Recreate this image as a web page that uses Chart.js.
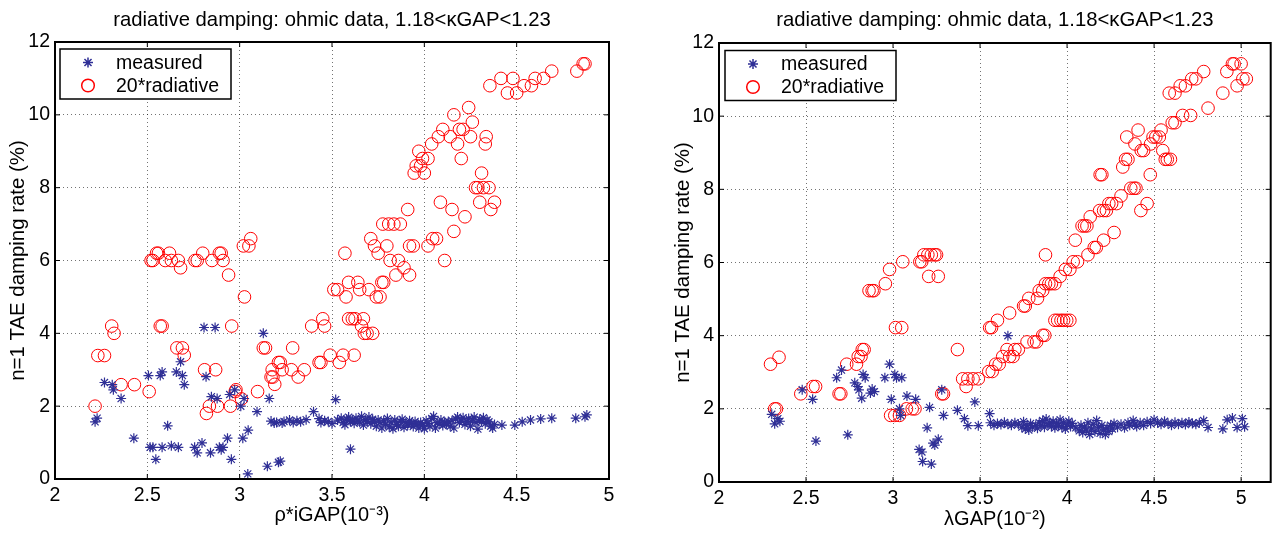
<!DOCTYPE html>
<html>
<head>
<meta charset="utf-8">
<script src="https://cdn.jsdelivr.net/npm/chart.js@4/dist/chart.umd.min.js"></script>
<style>
  html, body { margin: 0; padding: 0; background: #fff; }
  #wrap { position: relative; width: 1278px; height: 537px; }
  canvas { position: absolute; top: 0; }
  #left { left: 0; }
  #right { left: 639px; }
</style>
</head>
<body>
<div id="wrap">
  <canvas id="left" width="639" height="537"></canvas>
  <canvas id="right" width="639" height="537"></canvas>
</div>
<script>
// tick values shared by both panels
const xTicks = [2, 2.5, 3, 3.5, 4, 4.5, 5];
const yTicks = [0, 2, 4, 6, 8, 10, 12];

const panelTitle = 'radiative damping: ohmic data, 1.18<\u03baGAP<1.23';
const yLabel = 'n=1 TAE damping rate (%)';
const seriesNames = ['measured', '20*radiative'];

// left panel: x = rho*iGAP (1e-3)
const leftMeasured = [
  [2.217,1.57],[2.228,1.67],[2.268,2.65],[2.31,2.59],[2.316,2.45],[2.358,2.21],[2.427,1.12],
  [2.506,2.84],[2.515,0.87],[2.53,0.87],[2.546,0.54],[2.57,2.84],[2.58,2.94],[2.58,0.87],[2.61,1.46],
  [2.63,0.91],[2.657,2.94],[2.668,0.87],[2.68,3.22],[2.69,2.84],[2.7,2.59],[2.756,0.87],[2.77,0.72],
  [2.796,0.99],[2.807,4.16],[2.818,2.81],[2.842,0.72],[2.847,2.26],[2.867,4.16],[2.878,2.21],[2.89,0.87],
  [2.9,0.8],[2.91,0.87],[2.934,1.12],[2.946,2.32],[2.955,0.54],[2.973,2.45],[3.006,2.0],[3.017,1.12],
  [3.024,2.21],[3.046,1.34],[3.044,0.14],[3.094,1.85],[3.128,4.0],[3.15,0.35],[3.16,2.21],[3.17,1.59],
  [3.187,1.54],[3.21,0.46],[3.22,0.49],[3.23,1.54],[3.40,1.85],[3.52,2.18],[3.60,0.82],
  [3.20,1.55],[3.24,1.58],[3.27,1.62],[3.29,1.55],[3.31,1.60],[3.33,1.57],[3.36,1.63],[3.43,1.66],
  [3.44,1.55],[3.46,1.60],[3.48,1.58],[3.50,1.52],[3.53,1.62],[3.55,1.67],[3.56,1.55],[3.57,1.49],
  [3.58,1.64],[3.59,1.70],[3.60,1.58],[3.61,1.62],[3.62,1.53],[3.63,1.67],[3.64,1.60],[3.65,1.56],
  [3.66,1.72],[3.67,1.48],[3.68,1.63],[3.69,1.58],[3.70,1.70],[3.71,1.52],[3.72,1.64],[3.73,1.57],
  [3.74,1.45],[3.75,1.62],[3.76,1.55],[3.77,1.40],[3.78,1.60],[3.79,1.50],[3.80,1.66],[3.81,1.43],
  [3.82,1.56],[3.83,1.38],[3.84,1.62],[3.85,1.50],[3.86,1.45],[3.87,1.58],[3.88,1.64],[3.89,1.42],
  [3.90,1.55],[3.91,1.48],[3.92,1.60],[3.93,1.52],[3.94,1.44],[3.95,1.58],[3.96,1.50],[3.97,1.40],
  [3.98,1.55],[3.99,1.47],[4.00,1.38],[4.01,1.60],[4.02,1.52],[4.03,1.45],[4.04,1.66],[4.05,1.72],
  [4.06,1.40],[4.07,1.55],[4.08,1.50],[4.09,1.62],[4.10,1.47],[4.11,1.56],[4.12,1.52],[4.13,1.58],
  [4.14,1.45],[4.15,1.60],[4.16,1.40],[4.17,1.65],[4.18,1.70],[4.19,1.55],[4.20,1.62],[4.21,1.68],
  [4.22,1.50],[4.23,1.58],[4.24,1.66],[4.25,1.45],[4.26,1.62],[4.27,1.70],[4.28,1.55],[4.29,1.37],
  [4.30,1.64],[4.31,1.58],[4.32,1.68],[4.33,1.52],[4.34,1.62],[4.35,1.57],[4.36,1.45],[4.37,1.40],
  [4.38,1.50],[4.42,1.48],[4.49,1.48],[4.53,1.57],[4.575,1.62],[4.63,1.65],[4.69,1.67],[4.82,1.67],
  [4.87,1.71],[4.88,1.76]
];
const leftRadiative = [
  [2.217,2.0],[2.232,3.39],[2.268,3.39],[2.307,4.2],[2.32,4.0],[2.358,2.59],[2.43,2.59],[2.51,2.4],
  [2.52,6.0],[2.53,6.0],[2.55,6.2],[2.56,6.2],[2.597,6.0],[2.62,6.2],[2.63,6.0],[2.668,6.0],[2.68,5.8],
  [2.758,6.0],[2.77,6.0],[2.8,6.2],[2.85,6.0],[2.89,6.2],[2.9,6.2],[2.91,6.0],[2.94,5.6],[3.026,5.0],
  [3.02,6.4],[3.05,6.4],[3.06,6.6],[2.57,4.2],[2.58,4.2],[2.66,3.6],[2.69,3.6],[2.7,3.4],[2.81,3.0],
  [2.87,3.0],[2.82,1.8],[2.836,2.0],[2.88,2.0],[2.95,2.0],[2.957,4.2],[2.976,2.4],[2.98,2.45],[3.01,2.2],
  [3.097,2.4],[3.128,3.6],[3.14,3.6],[3.17,2.8],[3.176,3.0],[3.19,2.6],[3.18,2.8],[3.21,3.2],[3.22,3.2],
  [3.23,3.0],[3.287,3.6],[3.28,3.0],[3.317,2.8],[3.35,3.0],[3.39,4.2],[3.45,4.4],[3.46,4.2],[3.43,3.2],
  [3.44,3.2],[3.49,3.4],[3.54,3.2],[3.56,3.4],[3.62,3.4],[3.51,5.2],[3.53,5.2],[3.576,5.0],[3.57,6.2],
  [3.59,5.4],[3.64,5.4],[3.65,5.2],[3.70,5.2],[3.59,4.4],[3.61,4.4],[3.625,4.4],[3.67,4.4],[3.66,4.2],
  [3.675,4.0],[3.69,4.0],[3.72,4.0],[3.71,6.6],[3.73,6.4],[3.75,6.2],[3.74,5.0],[3.76,5.0],[3.77,5.4],
  [3.78,5.4],[3.797,6.4],[3.775,7.0],[3.815,6.0],[3.807,7.0],[3.835,7.0],[3.87,7.0],[3.86,6.0],[3.846,5.6],
  [3.89,5.8],[3.92,5.6],[3.91,7.4],[3.92,6.4],[3.94,6.4],[3.945,8.4],[3.956,8.6],[3.97,9.0],[3.98,8.6],
  [4.0,8.4],[3.99,8.8],[4.02,8.8],[4.02,6.4],[4.04,9.2],[4.045,6.6],[4.066,6.6],[4.11,6.0],[4.076,9.4],
  [4.1,9.6],[4.087,7.6],[4.14,9.4],[4.15,7.4],[4.16,6.8],[4.16,10.0],[4.18,9.2],[4.19,9.6],[4.2,8.8],
  [4.21,9.6],[4.22,7.2],[4.24,10.2],[4.25,9.4],[4.26,9.8],[4.277,8.0],[4.29,8.0],[4.3,7.6],[4.31,8.4],
  [4.32,8.0],[4.33,9.2],[4.335,9.4],[4.35,8.0],[4.36,7.4],[4.38,7.6],[4.355,10.8],[4.415,11.0],[4.45,10.6],
  [4.48,11.0],[4.5,10.6],[4.54,10.8],[4.58,10.8],[4.6,11.0],[4.646,11.0],[4.69,11.2],[4.826,11.2],
  [4.86,11.4],[4.87,11.4]
];

// right panel: x = lambdaGAP (1e-2)
const rightMeasured = [
  [2.303,1.85],[2.32,1.59],[2.338,1.73],[2.35,1.66],[2.478,2.52],[2.538,2.26],[2.557,1.12],[2.676,2.85],
  [2.704,3.06],[2.74,1.29],[2.78,2.71],[2.797,2.61],[2.804,2.52],[2.82,2.29],[2.828,2.94],[2.84,2.85],
  [2.87,2.43],[2.88,2.54],[2.893,2.47],[2.953,2.85],[2.98,3.22],[2.99,2.26],[3.01,2.94],[3.02,2.85],
  [3.05,2.85],[3.037,2.0],[3.044,1.82],[3.08,2.35],[3.13,2.26],[3.15,0.89],[3.166,0.82],[3.17,0.56],
  [3.196,1.48],[3.21,2.04],[3.22,0.49],[3.23,1.06],[3.24,1.01],[3.26,1.17],[3.28,2.52],[3.29,1.82],
  [3.37,1.96],[3.41,1.73],[3.43,1.54],[3.47,2.19],[3.49,1.54],[3.555,1.87],[3.66,4.0],
  [3.56,1.62],[3.58,1.55],[3.60,1.60],[3.62,1.57],[3.64,1.63],[3.66,1.58],[3.68,1.55],[3.70,1.62],
  [3.72,1.58],[3.74,1.50],[3.75,1.65],[3.76,1.45],[3.77,1.55],[3.78,1.42],[3.79,1.60],[3.80,1.50],
  [3.82,1.55],[3.83,1.47],[3.84,1.62],[3.85,1.55],[3.86,1.68],[3.87,1.50],[3.88,1.72],[3.89,1.58],
  [3.90,1.62],[3.91,1.52],[3.92,1.66],[3.93,1.48],[3.94,1.60],[3.95,1.55],[3.96,1.70],[3.97,1.50],
  [3.98,1.62],[3.99,1.45],[4.00,1.58],[4.01,1.66],[4.02,1.52],[4.03,1.60],[4.05,1.48],[4.07,1.40],
  [4.08,1.55],[4.09,1.35],[4.10,1.50],[4.11,1.42],[4.12,1.62],[4.13,1.30],[4.14,1.45],[4.15,1.58],
  [4.16,1.38],[4.17,1.68],[4.18,1.50],[4.19,1.33],[4.20,1.55],[4.21,1.42],[4.22,1.30],[4.23,1.48],
  [4.24,1.38],[4.25,1.55],[4.26,1.45],[4.27,1.60],[4.29,1.50],[4.31,1.58],[4.33,1.48],[4.35,1.62],
  [4.36,1.55],[4.38,1.68],[4.39,1.58],[4.40,1.52],[4.42,1.62],[4.44,1.55],[4.46,1.65],[4.48,1.60],
  [4.50,1.70],[4.52,1.62],[4.54,1.58],[4.56,1.66],[4.58,1.60],[4.60,1.55],[4.62,1.63],[4.64,1.58],
  [4.66,1.62],[4.68,1.57],[4.70,1.64],[4.72,1.60],[4.74,1.58],[4.76,1.62],[4.785,1.68],[4.81,1.49],
  [4.895,1.45],[4.92,1.7],[4.95,1.75],[4.977,1.49],[5.007,1.73],[5.02,1.51]
];
const rightRadiative = [
  [2.296,3.22],[2.345,3.41],[2.32,2.0],[2.33,2.0],[2.47,2.41],[2.54,2.61],[2.555,2.61],[2.69,2.41],
  [2.70,2.41],[2.734,3.22],[2.79,3.22],[2.80,3.43],[2.816,3.43],[2.823,3.62],[2.834,3.62],[2.862,5.23],
  [2.88,5.23],[2.89,5.23],[2.956,5.42],[2.98,5.81],[3.056,6.02],[2.986,1.82],[3.01,1.82],[3.037,1.82],
  [3.077,2.0],[3.11,2.0],[3.126,2.0],[3.014,4.22],[3.05,4.22],[3.154,6.02],[3.165,6.02],[3.177,6.21],
  [3.2,6.21],[3.22,6.21],[3.24,6.21],[3.25,6.21],[3.205,5.62],[3.26,5.62],[3.28,2.41],[3.29,2.41],
  [3.37,3.62],[3.4,2.82],[3.43,2.82],[3.42,2.61],[3.46,2.82],[3.49,2.82],[3.55,3.02],[3.57,3.02],
  [3.59,3.22],[3.61,3.22],[3.63,3.43],[3.655,3.62],[3.67,3.43],[3.69,3.43],[3.70,3.62],[3.72,3.62],
  [3.555,4.22],[3.566,4.22],[3.6,4.42],[3.67,4.62],[3.75,4.81],[3.76,4.81],[3.78,5.02],[3.83,5.02],
  [3.84,5.23],[3.86,5.23],[3.876,5.42],[3.895,5.42],[3.91,5.42],[3.93,5.42],[3.96,5.62],[3.77,3.83],
  [3.81,3.83],[3.825,3.83],[3.86,4.01],[3.872,4.01],[3.876,6.21],[3.93,4.42],[3.946,4.42],[3.965,4.42],
  [3.98,4.42],[3.998,4.42],[4.016,4.42],[3.99,5.81],[4.016,5.81],[4.035,6.02],[4.06,6.02],[4.047,6.61],
  [4.086,7.0],[4.1,7.0],[4.114,7.0],[4.12,6.21],[4.133,7.25],[4.156,6.41],[4.168,6.41],[4.19,8.4],
  [4.2,8.4],[4.187,7.42],[4.21,7.42],[4.21,6.61],[4.226,7.42],[4.24,7.61],[4.256,7.61],[4.27,6.82],
  [4.284,7.61],[4.31,7.82],[4.32,8.61],[4.336,8.82],[4.35,8.82],[4.343,9.43],[4.366,8.03],[4.385,8.03],
  [4.396,8.03],[4.39,9.24],[4.424,7.42],[4.408,9.62],[4.426,9.06],[4.44,9.06],[4.46,7.61],[4.478,8.4],
  [4.48,9.24],[4.494,9.43],[4.51,9.43],[4.53,9.43],[4.54,9.62],[4.55,9.06],[4.564,8.82],[4.576,8.82],
  [4.594,8.82],[4.587,10.63],[4.62,10.63],[4.604,9.82],[4.62,9.82],[4.65,10.83],[4.68,10.83],[4.664,10.02],
  [4.71,10.02],[4.716,11.02],[4.74,11.02],[4.785,11.22],[4.81,10.22],[4.895,10.63],[4.918,11.22],
  [4.95,11.43],[4.96,11.43],[4.977,10.83],[5.0,11.43],[5.01,11.02],[5.03,11.02]
];

const FONT = "'Liberation Sans', Arial, Helvetica, sans-serif";
const BLUE = '#2f2f96';
const RED = '#ff0000';

Chart.defaults.font.family = FONT;
Chart.defaults.color = '#000';

// MATLAB style box, inward ticks, legend and title
const matlabBox = {
  id: 'matlabBox',
  afterDraw(chart, args, opts) {
    const {ctx, chartArea: a, scales} = chart;
    ctx.save();
    ctx.strokeStyle = '#000';
    ctx.lineWidth = 1;
    ctx.beginPath();
    scales.x.ticks.forEach(t => {
      const px = scales.x.getPixelForValue(t.value);
      ctx.moveTo(px, a.bottom); ctx.lineTo(px, a.bottom - 5);
      ctx.moveTo(px, a.top); ctx.lineTo(px, a.top + 5);
    });
    scales.y.ticks.forEach(t => {
      const py = scales.y.getPixelForValue(t.value);
      ctx.moveTo(a.left, py); ctx.lineTo(a.left + 5, py);
      ctx.moveTo(a.right, py); ctx.lineTo(a.right - 5, py);
    });
    ctx.stroke();

    ctx.lineWidth = 2;
    ctx.strokeRect(a.left, a.top, a.right - a.left, a.bottom - a.top);

    // legend
    const bx = a.left + opts.legendDx, by = a.top + opts.legendDy;
    ctx.fillStyle = '#fff';
    ctx.fillRect(bx, by, 171, 50);
    ctx.lineWidth = 1.5;
    ctx.strokeRect(bx, by, 171, 50);
    ctx.font = '19.5px ' + FONT;
    ctx.textBaseline = 'middle';
    ctx.textAlign = 'left';
    chart.data.datasets.forEach((ds, i) => {
      const ry = by + (i === 0 ? 13.5 : 36.5);
      ctx.strokeStyle = ds.borderColor;
      ctx.fillStyle = i === 0 ? ds.borderColor : 'rgba(0,0,0,0)';
      Chart.helpers.drawPoint(ctx, {pointStyle: ds.pointStyle, radius: ds.pointRadius, rotation: 0, borderWidth: ds.borderWidth}, bx + 28, ry);
      ctx.fillStyle = '#000';
      ctx.fillText(ds.label, bx + 56, ry + 1);
    });

    // title
    ctx.font = '20.3px ' + FONT;
    ctx.textAlign = 'center';
    ctx.textBaseline = 'alphabetic';
    ctx.fillStyle = '#000';
    ctx.fillText(panelTitle, (a.left + a.right) / 2, 26);
    ctx.restore();
  }
};

function makePanel(id, measured, radiative, p) {
  return new Chart(document.getElementById(id), {
    type: 'scatter',
    data: {
      datasets: [
        {
          label: seriesNames[0],
          data: measured.map(d => ({x: d[0], y: d[1]})),
          pointStyle: 'star',
          pointRadius: 5,
          borderColor: BLUE,
          backgroundColor: BLUE,
          borderWidth: 1.2
        },
        {
          label: seriesNames[1],
          data: radiative.map(d => ({x: d[0], y: d[1]})),
          pointStyle: 'circle',
          pointRadius: 6.3,
          borderColor: RED,
          backgroundColor: 'rgba(0,0,0,0)',
          borderWidth: 1
        }
      ]
    },
    options: {
      responsive: false,
      animation: false,
      events: [],
      layout: {padding: {left: 0, top: p.top, right: p.right, bottom: 0}},
      plugins: {
        legend: {display: false},
        tooltip: {enabled: false},
        matlabBox: {legendDx: p.legendDx, legendDy: p.legendDy}
      },
      scales: {
        x: {
          type: 'linear',
          min: 2,
          max: p.xMax,
          afterBuildTicks: s => { s.ticks = xTicks.map(v => ({value: v})); },
          afterFit: s => { s.height = p.xHeight; },
          ticks: {padding: 5, font: {size: 19.5}, maxRotation: 0, callback: v => String(v)},
          grid: {color: 'rgba(0,0,0,0.55)', lineWidth: 1, drawTicks: false},
          border: {display: false, dash: [1, 3]},
          title: {display: true, text: p.xTitle, font: {size: 20}, padding: {top: 0, bottom: p.xTitlePad}}
        },
        y: {
          type: 'linear',
          min: 0,
          max: 12,
          afterBuildTicks: s => { s.ticks = yTicks.map(v => ({value: v})); },
          afterFit: s => { s.width = p.yWidth; },
          ticks: {padding: 5, font: {size: 19.5}},
          grid: {color: 'rgba(0,0,0,0.55)', lineWidth: 1, drawTicks: false},
          border: {display: false, dash: [1, 3]},
          title: {display: true, text: yLabel, font: {size: 20.4}, padding: {top: p.yTitlePad, bottom: 0}}
        }
      }
    },
    plugins: [matlabBox]
  });
}

makePanel('left', leftMeasured, leftRadiative, {
  top: 42, right: 30, xHeight: 58, yWidth: 55, xMax: 5,
  xTitle: '\u03c1*iGAP(10\u207b\u00b3)', xTitlePad: 10, yTitlePad: 6.3,
  legendDx: 5, legendDy: 7
});
makePanel('right', rightMeasured, rightRadiative, {
  top: 43, right: 5, xHeight: 55, yWidth: 80, xMax: 5.17,
  xTitle: '\u03bbGAP(10\u207b\u00b2)', xTitlePad: 6, yTitlePad: 31.8,
  legendDx: 6, legendDy: 7.5
});
</script>
</body>
</html>
